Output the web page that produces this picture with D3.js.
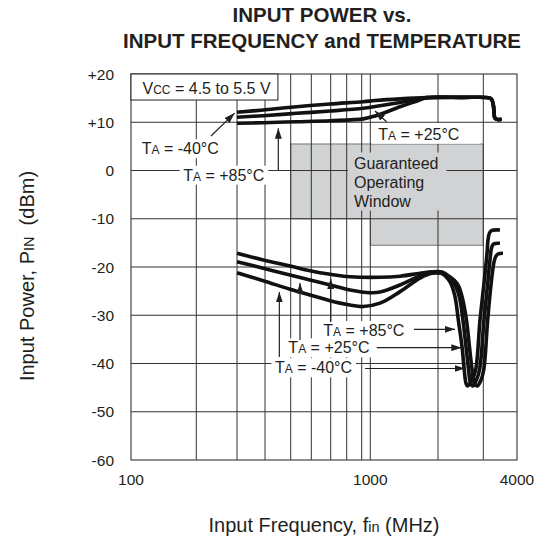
<!DOCTYPE html>
<html><head><meta charset="utf-8">
<script src="https://cdn.jsdelivr.net/npm/d3@7"></script>
<style>
body{margin:0;background:#fff}
text{font-family:Arial,"Liberation Sans",Helvetica,sans-serif;fill:#231f20}
</style>
</head><body>
<svg id="c" width="548" height="543"></svg>
<script>
// ---------- data ----------
const titleLines = ["INPUT POWER vs.", "INPUT FREQUENCY and TEMPERATURE"];
const xGridFreqs = [100,200,300,400,500,600,700,800,900,1000,2000,3000,4000];
const xTickLabels = [100,1000,4000];
const yTicks = [20,10,0,-10,-20,-30,-40,-50,-60];
const yTickLabels = ["+20","+10","0","-10","-20","-30","-40","-50","-60"];

// upper group (MHz, dBm)
const upperM40 = [[300,12.06],[393,12.54],[527,13.22],[697,13.78],[918,14.26],[1050,14.5],[1356,14.85],[1787,15.1],[2500,15.15],[3131,15.1],[3218,14.8],[3267,13.6],[3290,12.0],[3310,10.9],[3400,10.55],[3510,10.6]];
const upperP25 = [[300,11.03],[393,11.36],[527,11.85],[697,12.33],[918,12.9],[1050,13.25],[1356,14.1],[1787,15.1],[2500,15.15],[3131,15.1],[3218,14.8],[3267,13.6],[3290,12.0],[3310,10.9],[3400,10.55],[3510,10.6]];
const upperP85 = [[300,9.78],[393,9.91],[527,10.11],[697,10.32],[918,10.7],[1050,11.3],[1356,13.2],[1590,14.3],[1787,15.1],[2500,15.15],[3131,15.1],[3218,14.8],[3267,13.6],[3290,12.0],[3310,10.9],[3400,10.55],[3510,10.6]];

// lower group (MHz, dBm)
const lowerP85 = [[300,-17.16],[393,-18.55],[497,-19.79],[593,-20.77],[697,-21.51],[821,-22.01],[1104,-22.13],[1356,-21.9],[1663,-21.3],[1881,-21.0],[2036,-21.1],[2226,-23.05],[2329,-26.16],[2399,-30.98],[2480,-36.52],[2530,-41.35],[2570,-44.1],[2610,-44.66],[2700,-43.6],[2800,-41.35],[2913,-30.98],[3013,-23.73],[3097,-17.16],[3123,-14.4],[3163,-12.95],[3228,-12.43],[3459,-12.33]];
const lowerP25 = [[300,-18.9],[393,-20.27],[497,-21.66],[593,-22.69],[697,-23.73],[821,-24.77],[1000,-25.33],[1104,-25.2],[1356,-23.73],[1663,-21.87],[1881,-21.1],[2073,-21.05],[2297,-23.1],[2420,-26.16],[2500,-30.98],[2570,-36.52],[2630,-41.35],[2675,-44.04],[2730,-44.66],[2810,-43.6],[2900,-41.35],[3018,-30.98],[3110,-23.73],[3190,-17.51],[3218,-16.06],[3274,-15.23],[3459,-15.09]];
const lowerM40 = [[300,-21.18],[393,-22.84],[497,-24.62],[593,-25.8],[697,-26.98],[821,-27.88],[915,-28.2],[1104,-27.5],[1356,-25.1],[1663,-22.3],[1881,-21.3],[2110,-21.45],[2371,-23.4],[2480,-26.16],[2580,-30.98],[2650,-36.52],[2715,-41.35],[2770,-44.04],[2840,-44.66],[2930,-43.6],[3010,-41.35],[3114,-30.98],[3203,-23.73],[3287,-18.96],[3330,-17.93],[3400,-17.3],[3549,-17.16]];

// guaranteed operating window (MHz, dBm)
const windowFreq = [500,3000,3000,1000,1000,500];
const windowDbm  = [5.5,5.5,-15.5,-15.5,-10,-10];
const windowText = ["Guaranteed","Operating","Window"];
const windowTextAt = [847, 0.4];

// supply note
const vccText = ["V","CC"," = 4.5 to 5.5 V"];
const vccAt = [113, 15.85];

// temperature labels
const labelTemp = ["-40","+85","+25","+85","+25","-40"];
const labelFreq = [112,174,1085,660,490,436];
const labelDbm  = [3.37,-2.11,6.32,-34.3,-37.9,-42.03];

// arrows: from -> to (MHz, dBm)
const arrowFrom = [[231.5,7.15],[449,0],[1180,10.11],[1564,-32.91],[700,-31.4],[1068,-36.72],[543,-35.13],[938,-41.04],[453,-38.65]];
const arrowTo   = [[293,11.9],[449,8.75],[1049,12.33],[2329,-32.91],[700,-22.38],[2475,-36.72],[543,-23.32],[2547,-41.04],[453,-25.18]];

// ---------- scales ----------
const svg = d3.select("#c");
const x = d3.scaleLog().domain(xGridFreqs)
  .range([131,196.3,237,265,290.7,311.3,330.7,346.7,361.7,370.3,438,483.3,517]);
const y = d3.scaleLinear().domain([-60,20]).range([460,74]);
const X0 = x(100), X1 = x(4000), Y0 = y(-60), Y1 = y(20);

svg.append("defs").append("marker")
  .attr("id","ah").attr("markerUnits","userSpaceOnUse")
  .attr("markerWidth",11).attr("markerHeight",7)
  .attr("refX",10.5).attr("refY",3.5).attr("orient","auto")
  .append("path").attr("d","M0,0 L10.5,3.5 L0,7 Z").attr("fill","#231f20");

// title
svg.selectAll("text.title").data(titleLines).join("text")
  .attr("class","title").attr("x",322).attr("y",(d,i)=>22+i*26)
  .attr("text-anchor","middle").attr("font-size",20.5).attr("font-weight","bold")
  .text(d=>d);

// window
svg.append("polygon")
  .attr("points", windowFreq.map((f,i)=>[x(f),y(windowDbm[i])].join(",")).join(" "))
  .attr("fill","#d1d2d3").attr("stroke","#555").attr("stroke-width",0.8);

// grid
const grid = svg.append("g").attr("stroke","#333").attr("stroke-width",1);
grid.selectAll("line.v").data(xGridFreqs.slice(1,-1)).join("line").attr("class","v")
  .attr("x1",d=>x(d)).attr("x2",d=>x(d)).attr("y1",Y1).attr("y2",Y0);
grid.selectAll("line.h").data(yTicks.slice(1,-1)).join("line").attr("class","h")
  .attr("x1",X0).attr("x2",X1).attr("y1",d=>y(d)).attr("y2",d=>y(d));
svg.append("rect").attr("x",X0).attr("y",Y1).attr("width",X1-X0).attr("height",Y0-Y1)
  .attr("fill","none").attr("stroke","#444").attr("stroke-width",1.2);

// tick labels
svg.selectAll("text.yt").data(yTicks).join("text").attr("class","yt")
  .attr("x",X0-17).attr("y",d=>y(d)+5.5).attr("text-anchor","end").attr("font-size",15.5)
  .text((d,i)=>yTickLabels[i]);
svg.selectAll("text.xt").data(xTickLabels).join("text").attr("class","xt")
  .attr("x",d=>x(d)).attr("y",Y0+25).attr("text-anchor","middle").attr("font-size",15.5)
  .text(d=>d);

// axis titles
const yt = svg.append("text").attr("transform",`translate(34,${(Y0+Y1)/2+9}) rotate(-90)`)
  .attr("text-anchor","middle").attr("font-size",20);
yt.append("tspan").text("Input Power, P");
yt.append("tspan").attr("font-size",14.5).text("IN");
yt.append("tspan").text("\u00a0 (dBm)");
const xt = svg.append("text").attr("x",324).attr("y",532).attr("text-anchor","middle").attr("font-size",20);
xt.append("tspan").text("Input Frequency, f");
xt.append("tspan").attr("font-size",14.5).text("in");
xt.append("tspan").text(" (MHz)");

// helper to add background behind a text node
function bg(g, textSel, fill, pad, stroke){
  const b = textSel.node().getBBox();
  g.insert("rect", () => textSel.node())
    .attr("x", b.x - pad[0]).attr("y", b.y - pad[2])
    .attr("width", b.width + pad[0] + pad[1]).attr("height", b.height + pad[2] + pad[3])
    .attr("fill", fill).attr("stroke", stroke || "none").attr("stroke-width", 1);
}

// Vcc box
const vg = svg.append("g");
const vt = vg.append("text").attr("x",x(vccAt[0])).attr("y",y(vccAt[1])).attr("font-size",16);
vccText.forEach((s,i)=> vt.append("tspan").attr("font-size", i===1?12:null).text(s));
{
  const b = vt.node().getBBox();
  vg.insert("rect", ()=>vt.node()).attr("x",X0).attr("y",Y1)
    .attr("width", b.x + b.width + 7 - X0).attr("height", y(vccAt[1]) + 6 - Y1)
    .attr("fill","#fff").attr("stroke","#231f20").attr("stroke-width",1);
}

// window text
const wg = svg.append("g");
const wt = wg.append("text").attr("font-size",16);
windowText.forEach((s,i)=> wt.append("tspan").attr("x",x(windowTextAt[0]))
  .attr("y",y(windowTextAt[1]) + i*19).text(s));
bg(wg, wt, "#d1d2d3", [6,8,2,1]);

// temperature labels
const lg = svg.append("g");
labelTemp.forEach((t,i)=>{
  const g = lg.append("g");
  const tx = g.append("text").attr("x",x(labelFreq[i])).attr("y",y(labelDbm[i])).attr("font-size",16);
  tx.append("tspan").text("T");
  tx.append("tspan").attr("font-size",12).text("A");
  tx.append("tspan").text(" = " + t + "°C");
  const pad = i===2 ? [6.5,21,3,y(5.5)-y(labelDbm[i])-3.2] : [3.5,4,1,1];
  bg(g, tx, "#fff", pad);
});

// curves
const line = d3.line().x(d=>x(d[0])).y(d=>y(d[1])).curve(d3.curveCatmullRom.alpha(0.5));
const curves = [upperM40, upperP25, upperP85, lowerP85, lowerP25, lowerM40];
svg.append("g").selectAll("path").data(curves).join("path")
  .attr("d", line).attr("fill","none").attr("stroke","#111")
  .attr("stroke-width",3.6).attr("stroke-linejoin","round").attr("stroke-linecap","butt");

// arrows
svg.append("g").selectAll("line").data(arrowFrom).join("line")
  .attr("x1",d=>x(d[0])).attr("y1",d=>y(d[1]))
  .attr("x2",(d,i)=>x(arrowTo[i][0])).attr("y2",(d,i)=>y(arrowTo[i][1]))
  .attr("stroke","#231f20").attr("stroke-width",1.2).attr("marker-end","url(#ah)");
</script>
</body></html>
